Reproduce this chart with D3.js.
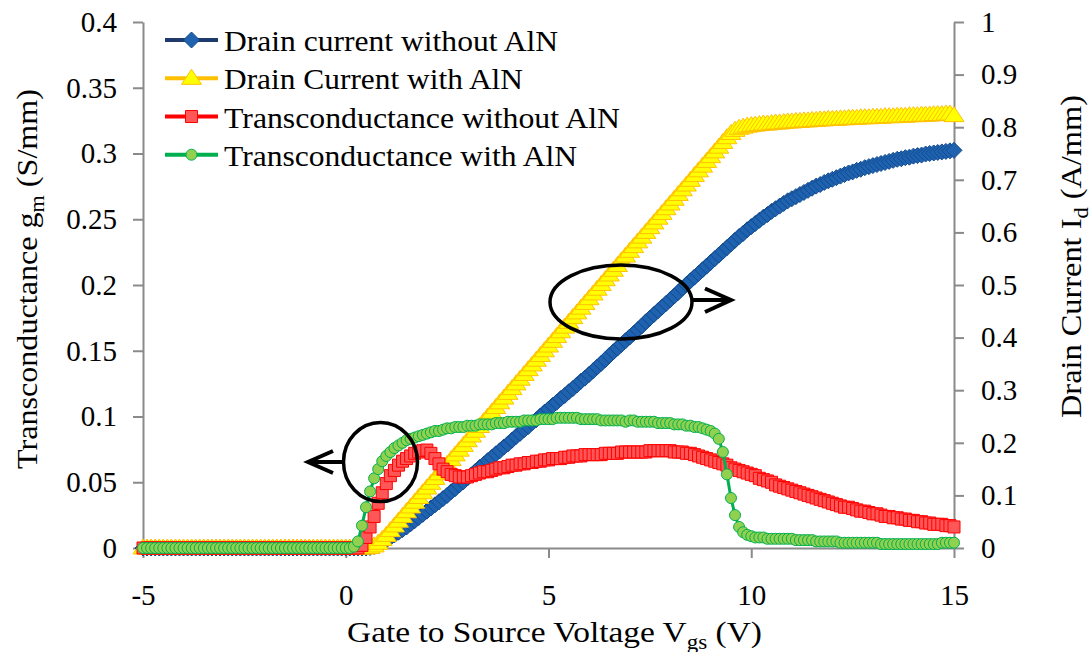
<!DOCTYPE html>
<html><head><meta charset="utf-8">
<script src="https://cdn.jsdelivr.net/npm/d3@7/dist/d3.min.js"></script>
<style>
html,body{margin:0;padding:0;background:#fff;}
svg{display:block;}
</style></head>
<body>
<svg id="chart" width="1092" height="652"></svg>
<script>
// ---------- DATA ----------
const vgs = [
-5,-4.9,-4.8,-4.7,-4.6,-4.5,-4.4,-4.3,-4.2,-4.1,
-4,-3.9,-3.8,-3.7,-3.6,-3.5,-3.4,-3.3,-3.2,-3.1,
-3,-2.9,-2.8,-2.7,-2.6,-2.5,-2.4,-2.3,-2.2,-2.1,
-2,-1.9,-1.8,-1.7,-1.6,-1.5,-1.4,-1.3,-1.2,-1.1,
-1,-0.9,-0.8,-0.7,-0.6,-0.5,-0.4,-0.3,-0.2,-0.1,
0,0.1,0.2,0.3,0.4,0.5,0.6,0.7,0.8,0.9,
1,1.1,1.2,1.3,1.4,1.5,1.6,1.7,1.8,1.9,
2,2.1,2.2,2.3,2.4,2.5,2.6,2.7,2.8,2.9,
3,3.1,3.2,3.3,3.4,3.5,3.6,3.7,3.8,3.9,
4,4.1,4.2,4.3,4.4,4.5,4.6,4.7,4.8,4.9,
5,5.1,5.2,5.3,5.4,5.5,5.6,5.7,5.8,5.9,
6,6.1,6.2,6.3,6.4,6.5,6.6,6.7,6.8,6.9,
7,7.1,7.2,7.3,7.4,7.5,7.6,7.7,7.8,7.9,
8,8.1,8.2,8.3,8.4,8.5,8.6,8.7,8.8,8.9,
9,9.1,9.2,9.3,9.4,9.5,9.6,9.7,9.8,9.9,
10,10.1,10.2,10.3,10.4,10.5,10.6,10.7,10.8,10.9,
11,11.1,11.2,11.3,11.4,11.5,11.6,11.7,11.8,11.9,
12,12.1,12.2,12.3,12.4,12.5,12.6,12.7,12.8,12.9,
13,13.1,13.2,13.3,13.4,13.5,13.6,13.7,13.8,13.9,
14,14.1,14.2,14.3,14.4,14.5,14.6,14.7,14.8,14.9,
15];

// Drain current without AlN (A/mm, right axis)
const idWithout = [
0,0,0,0,0,0,0,0,0,0,
0,0,0,0,0,0,0,0,0,0,
0,0,0,0,0,0,0,0,0,0,
0,0,0,0,0,0,0,0,0,0,
0,0,0,0,0,0,0,0,0,0,
0,0,0,0,0,0,0.001,0.003,0.006,0.010,
0.015,0.020,0.025,0.030,0.035,0.040,0.046,0.052,0.058,0.064,
0.070,0.076,0.082,0.088,0.094,0.100,0.107,0.113,0.120,0.126,
0.133,0.139,0.146,0.153,0.159,0.166,0.172,0.179,0.185,0.192,
0.198,0.205,0.212,0.218,0.225,0.231,0.238,0.244,0.251,0.258,
0.264,0.271,0.277,0.284,0.290,0.297,0.303,0.310,0.317,0.323,
0.330,0.337,0.344,0.351,0.358,0.366,0.373,0.380,0.387,0.394,
0.401,0.408,0.415,0.422,0.430,0.437,0.444,0.451,0.458,0.465,
0.472,0.479,0.486,0.494,0.501,0.508,0.515,0.522,0.529,0.536,
0.543,0.550,0.557,0.564,0.571,0.578,0.585,0.592,0.598,0.605,
0.611,0.617,0.623,0.629,0.634,0.640,0.645,0.650,0.655,0.660,
0.664,0.668,0.672,0.676,0.680,0.684,0.688,0.691,0.695,0.698,
0.701,0.704,0.707,0.710,0.713,0.715,0.718,0.720,0.723,0.725,
0.727,0.729,0.731,0.733,0.735,0.737,0.739,0.740,0.742,0.743,
0.745,0.746,0.747,0.749,0.750,0.751,0.752,0.753,0.754,0.755,
0.756];

// Drain current with AlN (A/mm, right axis)
const idWith = [
0,0,0,0,0,0,0,0,0,0,
0,0,0,0,0,0,0,0,0,0,
0,0,0,0,0,0,0,0,0,0,
0,0,0,0,0,0,0,0,0,0,
0,0,0,0,0,0,0,0,0,0,
0,0,0,0,0,0,0.001,0.004,0.009,0.016,
0.024,0.033,0.042,0.051,0.060,0.069,0.078,0.087,0.096,0.105,
0.114,0.123,0.132,0.141,0.150,0.159,0.168,0.177,0.186,0.195,
0.204,0.213,0.222,0.231,0.240,0.249,0.258,0.267,0.276,0.285,
0.294,0.303,0.312,0.321,0.330,0.339,0.348,0.357,0.366,0.375,
0.384,0.393,0.402,0.411,0.420,0.429,0.438,0.447,0.456,0.465,
0.474,0.483,0.492,0.501,0.510,0.519,0.528,0.537,0.546,0.555,
0.564,0.573,0.582,0.591,0.600,0.609,0.618,0.627,0.636,0.645,
0.654,0.663,0.672,0.681,0.690,0.699,0.708,0.717,0.726,0.735,
0.744,0.753,0.762,0.771,0.780,0.788,0.794,0.798,0.800,0.802,
0.803,0.804,0.805,0.806,0.806,0.807,0.808,0.808,0.809,0.810,
0.810,0.811,0.811,0.812,0.812,0.813,0.813,0.814,0.814,0.815,
0.815,0.815,0.816,0.816,0.817,0.817,0.817,0.818,0.818,0.818,
0.819,0.819,0.819,0.820,0.820,0.820,0.821,0.821,0.821,0.822,
0.822,0.822,0.823,0.823,0.823,0.824,0.824,0.824,0.825,0.825,
0.822];

// Transconductance without AlN (S/mm, left axis)
const gmWithout = [
0,0,0,0,0,0,0,0,0,0,
0,0,0,0,0,0,0,0,0,0,
0,0,0,0,0,0,0,0,0,0,
0,0,0,0,0,0,0,0,0,0,
0,0,0,0,0,0,0,0,0,0,
0,0,0,0,0.002,0.008,0.016,0.024,0.034,0.042,
0.049,0.055,0.059,0.063,0.066,0.068,0.070,0.072,0.073,0.074,
0.0745,0.072,0.068,0.064,0.060,0.058,0.056,0.055,0.054,0.054,
0.054,0.055,0.056,0.057,0.058,0.058,0.059,0.060,0.061,0.061,
0.062,0.063,0.063,0.064,0.064,0.065,0.065,0.066,0.066,0.067,
0.067,0.068,0.068,0.068,0.069,0.069,0.070,0.070,0.070,0.071,
0.071,0.071,0.071,0.071,0.072,0.072,0.072,0.072,0.073,0.073,
0.073,0.073,0.073,0.073,0.073,0.074,0.074,0.074,0.074,0.074,
0.074,0.073,0.073,0.073,0.072,0.072,0.071,0.070,0.069,0.068,
0.067,0.066,0.065,0.064,0.063,0.061,0.060,0.059,0.058,0.057,
0.056,0.055,0.053,0.052,0.051,0.050,0.048,0.047,0.046,0.045,
0.044,0.043,0.042,0.041,0.040,0.039,0.038,0.037,0.036,0.035,
0.034,0.033,0.032,0.031,0.031,0.030,0.029,0.028,0.028,0.027,
0.026,0.026,0.025,0.024,0.024,0.023,0.023,0.022,0.022,0.021,
0.021,0.020,0.020,0.019,0.019,0.018,0.018,0.018,0.017,0.017,
0.016];

// Transconductance with AlN (S/mm, left axis)
const gmWith = [
0,0,0,0,0,0,0,0,0,0,
0,0,0,0,0,0,0,0,0,0,
0,0,0,0,0,0,0,0,0,0,
0,0,0,0,0,0,0,0,0,0,
0,0,0,0,0,0,0,0,0,0,
0,0,0.001,0.005,0.017,0.031,0.043,0.053,0.060,0.066,
0.070,0.073,0.076,0.078,0.080,0.082,0.083,0.084,0.085,0.086,
0.087,0.088,0.089,0.089,0.090,0.091,0.091,0.092,0.092,0.092,
0.093,0.093,0.093,0.094,0.094,0.094,0.094,0.095,0.095,0.095,
0.096,0.096,0.096,0.096,0.097,0.097,0.097,0.097,0.098,0.098,
0.098,0.098,0.099,0.099,0.099,0.099,0.099,0.099,0.098,0.098,
0.098,0.098,0.098,0.097,0.097,0.097,0.097,0.097,0.097,0.096,
0.097,0.097,0.096,0.096,0.096,0.096,0.096,0.095,0.095,0.095,
0.095,0.094,0.094,0.094,0.093,0.093,0.092,0.092,0.091,0.090,
0.089,0.087,0.083,0.073,0.056,0.038,0.025,0.016,0.012,0.010,
0.009,0.008,0.008,0.008,0.007,0.007,0.007,0.007,0.007,0.007,
0.007,0.006,0.006,0.006,0.006,0.006,0.005,0.005,0.005,0.005,
0.005,0.005,0.004,0.004,0.004,0.004,0.004,0.004,0.004,0.004,
0.004,0.004,0.003,0.003,0.003,0.003,0.003,0.003,0.003,0.003,
0.003,0.003,0.003,0.003,0.003,0.003,0.003,0.004,0.004,0.004,
0.004];

const seriesNames = ["Drain current without AlN","Drain Current with AlN","Transconductance without AlN","Transconductance with AlN"];
const xTicks = [-5,0,5,10,15];
const xTickLabels = ["-5","0","5","10","15"];
const leftTicks = [0,0.05,0.1,0.15,0.2,0.25,0.3,0.35,0.4];
const leftTickLabels = ["0","0.05","0.1","0.15","0.2","0.25","0.3","0.35","0.4"];
const rightTicks = [0,0.1,0.2,0.3,0.4,0.5,0.6,0.7,0.8,0.9,1];
const rightTickLabels = ["0","0.1","0.2","0.3","0.4","0.5","0.6","0.7","0.8","0.9","1"];

// ---------- CHART ----------
const FONT = '"Liberation Serif","Times New Roman",serif';
const svg = d3.select("#chart").attr("font-family",FONT);
const X0 = 143, X1 = 954, Y0 = 548, Y1 = 22;
const x = d3.scaleLinear().domain([-5,15]).range([X0,X1]);
const yL = d3.scaleLinear().domain([0,0.4]).range([Y0,Y1]);
const yR = d3.scaleLinear().domain([0,1]).range([Y0,Y1]);
const axisColor = "#8a8a8a";
const tickFont = 29;

function styleAxis(g){
  g.attr("font-family",FONT);
  g.selectAll("path.domain").attr("stroke",axisColor).attr("stroke-width",2);
  g.selectAll(".tick line").attr("stroke",axisColor).attr("stroke-width",2);
  g.selectAll(".tick text").attr("font-size",tickFont).attr("fill","#000");
}

const gx = svg.append("g").attr("transform",`translate(0,${Y0})`)
  .call(d3.axisBottom(x).tickValues(xTicks).tickFormat((d,i)=>xTickLabels[i]).tickSizeInner(10).tickSizeOuter(0).tickPadding(26));
styleAxis(gx);
const gl = svg.append("g").attr("transform",`translate(${X0},0)`)
  .call(d3.axisLeft(yL).tickValues(leftTicks).tickFormat((d,i)=>leftTickLabels[i]).tickSizeInner(10).tickSizeOuter(0).tickPadding(16));
styleAxis(gl);
const gr = svg.append("g").attr("transform",`translate(${X1},0)`)
  .call(d3.axisRight(yR).tickValues(rightTicks).tickFormat((d,i)=>rightTickLabels[i]).tickSizeInner(10).tickSizeOuter(0).tickPadding(17));
styleAxis(gr);

// marker shapes
const shapes = {
  diamond: () => "M0,-8L8,0L0,8L-8,0Z",
  triangle: () => "M0,-9L10,6L-10,6Z",
  square: () => "M-6,-6H6V6H-6Z",
  circle: () => d3.symbol(d3.symbolCircle, Math.PI*5.5*5.5)()
};

const series = [
  {name:seriesNames[0], vals:idWithout, y:yR, line:"#1F3A6E", fill:"#1F63B0", stroke:"#114A8E", shape:"diamond"},
  {name:seriesNames[1], vals:idWith, y:yR, line:"#FFC000", fill:"#FFFF00", stroke:"#FFC000", shape:"triangle"},
  {name:seriesNames[2], vals:gmWithout, y:yL, line:"#FF0000", fill:"#FF5757", stroke:"#FF0000", shape:"square"},
  {name:seriesNames[3], vals:gmWith, y:yL, line:"#00B050", fill:"#92D050", stroke:"#00B050", shape:"circle"}
];

const plot = svg.append("g");
series.forEach(s => {
  const pts = vgs.map((v,i)=>[x(v), s.y(s.vals[i])]);
  const g = plot.append("g");
  g.append("path").attr("d", d3.line()(pts)).attr("fill","none").attr("stroke",s.line).attr("stroke-width",3);
  g.selectAll("path.m").data(pts).enter().append("path").attr("class","m")
    .attr("transform",d=>`translate(${d[0]},${d[1]})`)
    .attr("d",shapes[s.shape]())
    .attr("fill",s.fill).attr("stroke",s.stroke).attr("stroke-width",1);
});

// legend
const legY = [40, 78.3, 116.5, 154.7];
const legW = [334, 299, 396, 353];
const leg = svg.append("g");
series.forEach((s,i)=>{
  const y = legY[i];
  leg.append("line").attr("x1",165).attr("x2",218).attr("y1",y).attr("y2",y).attr("stroke",s.line).attr("stroke-width",4);
  leg.append("path").attr("transform",`translate(191.5,${y})`).attr("d",shapes[s.shape]()).attr("fill",s.fill).attr("stroke",s.stroke).attr("stroke-width",1);
  leg.append("text").attr("x",224).attr("y",y+11).attr("font-size",29)
    .attr("textLength",legW[i]).attr("lengthAdjust","spacingAndGlyphs").text(s.name);
});

// annotations
const ann = svg.append("g").attr("fill","none").attr("stroke","#000").attr("stroke-width",3.5);
ann.append("ellipse").attr("cx",380.5).attr("cy",462).attr("rx",37).attr("ry",39.5);
ann.append("line").attr("x1",343).attr("y1",462).attr("x2",308).attr("y2",462).attr("stroke-width",4);
ann.append("path").attr("d","M333,451L308,462L333,473").attr("stroke-width",4);
ann.append("ellipse").attr("cx",621).attr("cy",302).attr("rx",71).attr("ry",37);
ann.append("line").attr("x1",692).attr("y1",300).attr("x2",731).attr("y2",300).attr("stroke-width",4);
ann.append("path").attr("d","M705,288.5L731,300L705,312").attr("stroke-width",4);

// axis titles
function title(sel, main, sub, tail, len){
  sel.attr("font-size",29).attr("textLength",len).attr("lengthAdjust","spacingAndGlyphs");
  sel.append("tspan").text(main);
  sel.append("tspan").attr("font-size",20).attr("dy",7).text(sub);
  sel.append("tspan").attr("dy",-7).text(tail);
}
title(svg.append("text").attr("transform","translate(37,469) rotate(-90)").attr("x",0).attr("y",0),
  "Transconductance g","m"," (S/mm)",380);
title(svg.append("text").attr("transform","translate(1081,418) rotate(-90)").attr("x",0).attr("y",0),
  "Drain Current I","d"," (A/mm)",323);
title(svg.append("text").attr("x",347).attr("y",642),
  "Gate to Source Voltage V","gs"," (V)",415);
</script>
</body></html>
